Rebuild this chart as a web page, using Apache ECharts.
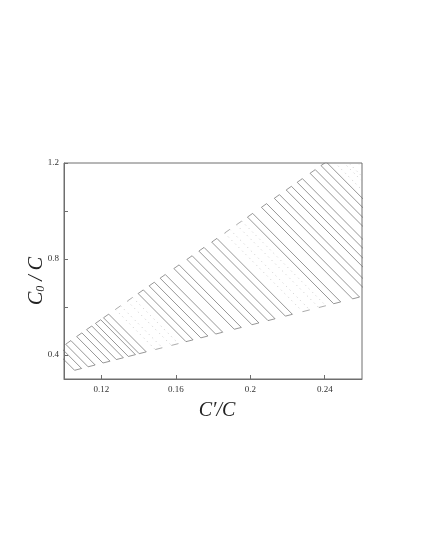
<!DOCTYPE html>
<html>
<head>
<meta charset="utf-8">
<script src="https://cdn.jsdelivr.net/npm/echarts@6/dist/echarts.min.js"></script>
<style>
  html, body { margin: 0; padding: 0; background: #fff; }
  #chart { width: 424px; height: 549px; }
</style>
</head>
<body>
<div id="chart"></div>
<script>
// axis ranges and ticks
const xRange = [0.10, 0.26];
const yRange = [0.3, 1.2];
const xTicks = [0.12, 0.16, 0.2, 0.24];
const yTicks = [0.4, 0.6, 0.8, 1.0, 1.2];
const yLabels = [0.4, 0.8, 1.2];

// the two edges of the hatched region (end points)
const upperEdge = [[0.10, 0.44], [0.24, 1.20]];
const lowerEdge = [[0.10, 0.325], [0.26, 0.644]];

// x where each hatch strip meets the upper edge
const solidStrips = [0.0955, 0.1009, 0.1068, 0.1121, 0.1169, 0.1212,
  0.1398, 0.1457, 0.1516, 0.1590, 0.1660, 0.1724, 0.1793,
  0.1985, 0.2060, 0.2129, 0.2193, 0.2252, 0.2321, 0.2380];
const dottedStrips = [0.1276, 0.1340, 0.1862, 0.1926, 0.2433, 0.2476];
const stripWidth = 0.0028;
const hatchSlope = -7.8;

function edgeAt(edge, x) {
  const [[x0, y0], [x1, y1]] = edge;
  return y0 + (y1 - y0) / (x1 - x0) * (x - x0);
}
// where a hatch line leaving the upper edge at x=a lands on the lower edge
function footOf(a) {
  const [[x0, y0], [x1, y1]] = lowerEdge;
  const ls = (y1 - y0) / (x1 - x0);
  const ya = edgeAt(upperEdge, a);
  const x = (y0 - ls * x0 - ya + hatchSlope * a) / (hatchSlope - ls);
  return [x, edgeAt(lowerEdge, x)];
}

function seg(points, style) {
  return {
    type: 'line',
    data: points,
    showSymbol: false,
    silent: true,
    clip: true,
    lineStyle: style
  };
}

const solidStyle = { color: '#6a6a6a', width: 0.7, type: 'solid' };
const capStyle = { color: '#888', width: 0.7, type: 'solid' };
const dotStyle = { color: '#b5b5b5', width: 0.7, type: [1, 4] };

const series = [];
solidStrips.forEach(a => {
  const b = a + stripWidth;
  const p1 = [a, edgeAt(upperEdge, a)];
  const p2 = [b, edgeAt(upperEdge, b)];
  series.push(seg([p1, p2, footOf(b), footOf(a), p1], solidStyle));
});
dottedStrips.forEach(a => {
  const b = a + stripWidth;
  const p1 = [a, edgeAt(upperEdge, a)];
  const p2 = [b, edgeAt(upperEdge, b)];
  const f1 = footOf(a), f2 = footOf(b);
  series.push(seg([p1, f1], dotStyle));
  series.push(seg([p2, f2], dotStyle));
  series.push(seg([p1, p2], capStyle));
  series.push(seg([f1, f2], capStyle));
});

const chart = echarts.init(document.getElementById('chart'), null, { renderer: 'canvas' });
const serif = '"Liberation Serif", "DejaVu Serif", serif';
const axisColor = '#6e6e6e';

chart.setOption({
  animation: false,
  backgroundColor: '#fff',
  grid: {
    left: 64, right: 62, top: 163, bottom: 170,
    show: true, borderColor: axisColor, borderWidth: 1
  },
  xAxis: {
    type: 'value',
    min: xRange[0], max: xRange[1],
    splitLine: { show: false },
    axisLine: { show: true, onZero: false, lineStyle: { color: axisColor, width: 1 } },
    axisTick: { inside: true, length: 4, customValues: xTicks, lineStyle: { color: axisColor } },
    axisLabel: {
      customValues: xTicks, margin: 6,
      fontFamily: serif, fontSize: 9, color: '#333',
      formatter: v => String(+v.toFixed(2))
    },
    name: "C′/C",
    nameLocation: 'middle',
    nameGap: 22,
    nameTextStyle: {
      fontFamily: serif, fontStyle: 'italic', fontSize: 20, color: '#222',
      padding: [0, 0, 0, 8]
    }
  },
  yAxis: {
    type: 'value',
    min: yRange[0], max: yRange[1],
    splitLine: { show: false },
    axisLine: { show: true, onZero: false, lineStyle: { color: axisColor, width: 1 } },
    axisTick: { inside: true, length: 4, customValues: yTicks, lineStyle: { color: axisColor } },
    axisLabel: {
      customValues: yLabels, margin: 5,
      fontFamily: serif, fontSize: 9, color: '#333',
      formatter: v => String(+v.toFixed(2))
    },
    name: '{i|C}{s|0}{i| / C}',
    nameLocation: 'middle',
    nameGap: 17,
    nameMoveOverlap: false,
    nameRotate: 90,
    nameTextStyle: {
      padding: [0, 20, 0, 0],
      rich: {
        i: { fontFamily: serif, fontStyle: 'italic', fontSize: 20, color: '#222' },
        s: { fontFamily: serif, fontStyle: 'italic', fontSize: 12, color: '#222', verticalAlign: 'bottom', padding: [8, 0, 0, 0] }
      }
    }
  },
  series: series
});
</script>
</body>
</html>
